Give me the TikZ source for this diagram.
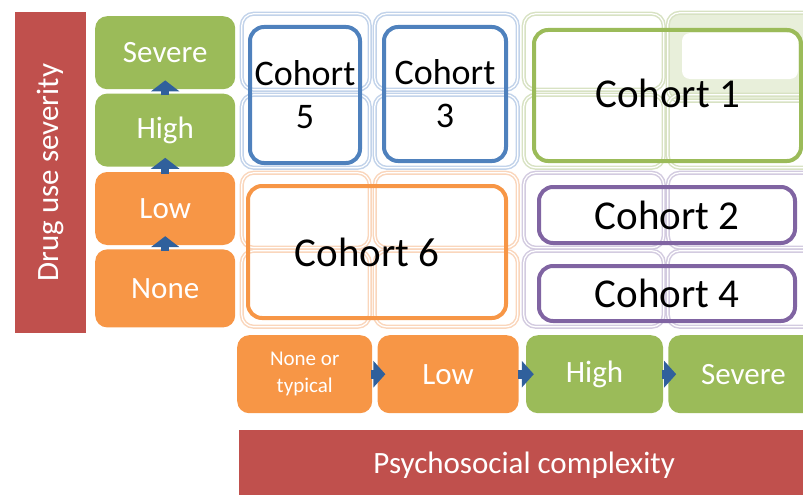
\documentclass[tikz,border=0pt]{standalone}
\usepackage{fontspec}
\setmainfont{Carlito}
\usepackage{xcolor}
\usepackage{tikz}
\usetikzlibrary{positioning,arrows.meta}

\definecolor{barred}{HTML}{C0504D}
\definecolor{lvgreen}{HTML}{9BBB59}
\definecolor{lvorange}{HTML}{F79646}
\definecolor{cblue}{HTML}{4F81BD}
\definecolor{cpurple}{HTML}{8064A2}
\definecolor{arrblue}{HTML}{30609C}
\definecolor{cellblue}{HTML}{C2D3EA}
\definecolor{cellgreen}{HTML}{D8E2C3}
\definecolor{cellgreenfill}{HTML}{E8EFDA}
\definecolor{cellorange}{HTML}{FAD6BC}
\definecolor{cellpurple}{HTML}{D3CBE0}

\begin{document}
\begin{tikzpicture}[x=1pt,y=-1pt,
	axisbar/.style={fill=barred,text=white,inner sep=0pt,font=\fontsize{31}{37}\selectfont},
	level/.style={rounded corners=12pt,inner sep=0pt,text=white,minimum width=140pt,minimum height=73pt,font=\fontsize{31}{37}\selectfont},
	lowlevel/.style={level,fill=lvorange},
	highlevel/.style={level,fill=lvgreen},
	cell/.style={rounded corners=12pt,line width=1.5pt,double=white,double distance=1.2pt,inner sep=0pt,anchor=north west},
	cohort/.style={rounded corners=14pt,line width=4pt,inner sep=0pt,align=center,font=\fontsize{41}{48}\selectfont},
	uparr/.style={draw=arrblue,line width=8pt,shorten <=-2pt,shorten >=-9pt,-{Triangle[width=28pt,length=11pt]}},
	rightarr/.style={draw=arrblue,line width=9pt,shorten <=-1pt,shorten >=-8pt,-{Triangle[width=26pt,length=12pt]}}]
	\useasboundingbox (0,0) rectangle (803,495);

	% the grid of cells behind the cohorts
	\node[cell,draw=cellblue,minimum width=128pt,minimum height=76pt] (c11) at (241,13) {};
	\node[cell,draw=cellblue,minimum width=143pt,minimum height=76pt] (c12) at (374,13) {};
	\node[cell,draw=cellgreen,minimum width=140pt,minimum height=76pt] (c13) at (523,13) {};
	\node[cell,draw=cellgreen,fill=cellgreenfill,minimum width=150pt,minimum height=88pt] (c14) at (667,12) {};
	\fill[white,rounded corners=8pt] (682,33) rectangle (798,79);
	\node[cell,draw=cellblue,minimum width=128pt,minimum height=73pt] (c21) at (241,94) {};
	\node[cell,draw=cellblue,minimum width=143pt,minimum height=73pt] (c22) at (374,94) {};
	\node[cell,draw=cellgreen,minimum width=140pt,minimum height=73pt] (c23) at (523,94) {};
	\node[cell,draw=cellgreen,minimum width=150pt,minimum height=73pt] (c24) at (667,94) {};
	\node[cell,draw=cellorange,minimum width=128pt,minimum height=75pt] (c31) at (241,172) {};
	\node[cell,draw=cellorange,minimum width=143pt,minimum height=75pt] (c32) at (374,172) {};
	\node[cell,draw=cellpurple,minimum width=140pt,minimum height=75pt] (c33) at (523,172) {};
	\node[cell,draw=cellpurple,minimum width=150pt,minimum height=75pt] (c34) at (667,172) {};
	\node[cell,draw=cellorange,minimum width=128pt,minimum height=76pt] (c41) at (241,250) {};
	\node[cell,draw=cellorange,minimum width=143pt,minimum height=76pt] (c42) at (374,250) {};
	\node[cell,draw=cellpurple,minimum width=140pt,minimum height=76pt] (c43) at (523,250) {};
	\node[cell,draw=cellpurple,minimum width=150pt,minimum height=76pt] (c44) at (667,250) {};

	% Now the cohorts
	\node[cohort,draw=cblue,minimum width=110pt,minimum height=136pt,font=\fontsize{36}{43}\selectfont] (coh5) at (305,95) {Cohort\\5};
	\node[cohort,draw=cblue,minimum width=122pt,minimum height=134pt,font=\fontsize{36}{43}\selectfont] (coh3) at (445,94) {Cohort\\3};
	\node[cohort,draw=lvgreen,minimum width=267pt,minimum height=131pt] (coh1) at (667.5,95.5) {\raisebox{4pt}{Cohort 1}};
	\node[cohort,draw=lvorange,minimum width=258pt,minimum height=132pt] (coh6) at (377,252) {Cohort 6\hspace*{20pt}};
	\node[cohort,draw=cpurple,minimum width=256pt,minimum height=56pt] (coh2) at (667,215) {Cohort 2};
	\node[cohort,draw=cpurple,minimum width=256pt,minimum height=55pt] (coh4) at (667,293.5) {Cohort 4};

	% drug use axis
	\node[axisbar,rotate=90,minimum width=321pt,minimum height=71pt] (drug) at (50.5,172.5) {Drug use severity};
	\node[highlevel,anchor=north west] (dsevere) at (95,16) {Severe};
	\node[highlevel] (dhigh) [below=4pt of dsevere] {High};
	\node[lowlevel] (dlow) [below=5pt of dhigh] {Low};
	\node[lowlevel,minimum height=78pt] (dnone) [below=4pt of dlow] {None};
	\draw[uparr] (dhigh.north) -- (dsevere.south);
	\draw[uparr] (dlow.north) -- (dhigh.south);
	\draw[uparr] (dnone.north) -- (dlow.south);

	% psychosocial axis
	\node[lowlevel,anchor=north west,minimum width=135pt,minimum height=78pt,align=center,font=\fontsize{21}{27}\selectfont] (pnone) at (237,335) {None or\\typical};
	\node[lowlevel,minimum width=141pt,minimum height=78pt] (plow) [right=5pt of pnone] {Low};
	\node[highlevel,minimum width=137pt,minimum height=78pt] (phigh) [right=7pt of plow] {High};
	\node[highlevel,minimum width=150pt,minimum height=78pt,text width=137pt,align=center] (psevere) [right=5pt of phigh] {Severe};
	\draw[rightarr] (pnone.east) -- (plow.west);
	\draw[rightarr] (plow.east) -- (phigh.west);
	\draw[rightarr] (phigh.east) -- (psevere.west);
	\node[axisbar,anchor=north west,minimum width=580pt,minimum height=70pt] (psycho) at (239,430) {\hspace*{-10pt}Psychosocial complexity};
\end{tikzpicture}
\end{document}
